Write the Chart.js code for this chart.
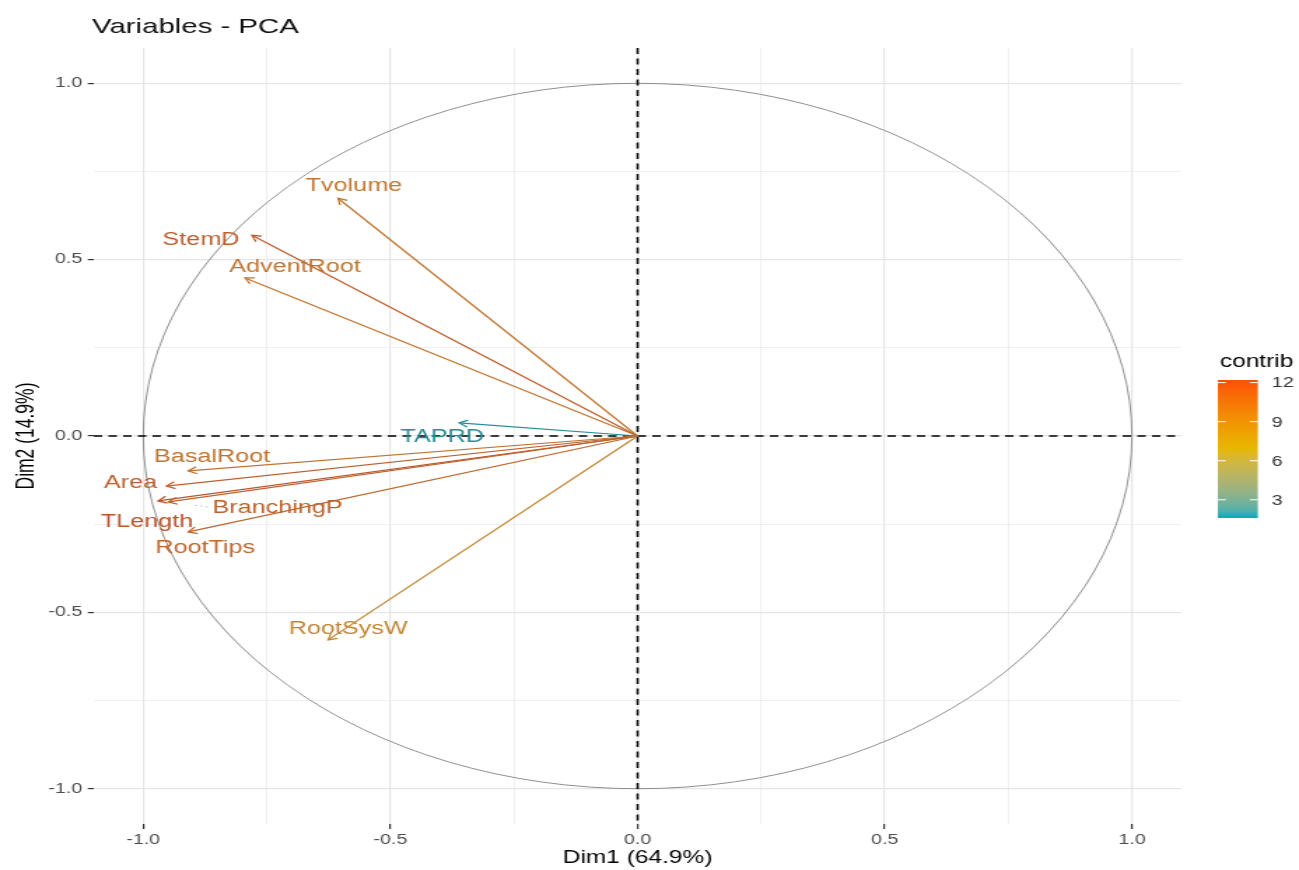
<!DOCTYPE html>
<html><head><meta charset="utf-8">
<script src="https://cdn.jsdelivr.net/npm/chart.js@4.4.1/dist/chart.umd.min.js"></script>
<style>
html,body{margin:0;padding:0;background:#fff;overflow:hidden;}
#wrap{width:1299px;height:870px;overflow:hidden;}
canvas{transform:scaleX(1.39978);transform-origin:0 0;display:block;}
</style></head><body>
<div id="wrap"><canvas id="c" width="928" height="870"></canvas></div>
<script>
// ---- data ----
const variables = ['Tvolume','StemD','AdventRoot','TAPRD','BasalRoot','Area','BranchingP','TLength','RootTips','RootSysW'];
const dim1 = [-0.606,-0.780,-0.794,-0.361,-0.909,-0.953,-0.949,-0.970,-0.909,-0.626];
const dim2 = [0.674,0.569,0.448,0.037,-0.099,-0.142,-0.187,-0.184,-0.272,-0.578];
const contrib = [10.3,11.7,10.4,1.6,10.5,11.6,11.5,12.2,11.3,9.1];
const axisTicks = [-1,-0.75,-0.5,-0.25,0,0.25,0.5,0.75,1];
const axisTickLabels = ['-1.0','','-0.5','','0.0','','0.5','','1.0'];
const legendTicks = [3,6,9,12];
const gradientColors = ['#00AFBB','#E7B800','#FC4E07'];
// label offsets from arrow tips (layout, px)
const labelOffset = [[11.4,-12],[-36.4,5],[35.7,-11],[-12.1,14],[17.1,-14],[-25.7,-3],[77.9,6],[-7.9,21],[12.1,16],[14.3,-11]];

const FONT = '"Liberation Sans", Arial, sans-serif';
const cMin = Math.min(...contrib), cMax = Math.max(...contrib);
function hex2rgb(h){return [parseInt(h.slice(1,3),16),parseInt(h.slice(3,5),16),parseInt(h.slice(5,7),16)];}
function toLin(c){c/=255;return c<=0.04045?c/12.92:Math.pow((c+0.055)/1.055,2.4);}
function fromLin(c){const v=c<=0.0031308?12.92*c:1.055*Math.pow(c,1/2.4)-0.055;return Math.max(0,Math.min(255,v*255));}
function rgb2lab(rgb){
  const [r,g,b]=rgb.map(toLin);
  const X=(0.4124*r+0.3576*g+0.1805*b)/0.95047, Y=(0.2126*r+0.7152*g+0.0722*b), Z=(0.0193*r+0.1192*g+0.9505*b)/1.08883;
  const f=t=>t>0.008856?Math.cbrt(t):7.787*t+16/116;
  const fx=f(X),fy=f(Y),fz=f(Z);
  return [116*fy-16,500*(fx-fy),200*(fy-fz)];
}
function lab2rgb(lab){
  const fy=(lab[0]+16)/116, fx=fy+lab[1]/500, fz=fy-lab[2]/200;
  const fi=t=>t*t*t>0.008856?t*t*t:(t-16/116)/7.787;
  const X=fi(fx)*0.95047, Y=fi(fy), Z=fi(fz)*1.08883;
  const r=3.2406*X-1.5372*Y-0.4986*Z, g=-0.9689*X+1.8758*Y+0.0415*Z, b=0.0557*X-0.2040*Y+1.0570*Z;
  return [fromLin(r),fromLin(g),fromLin(b)];
}
const labStops = gradientColors.map(h=>rgb2lab(hex2rgb(h)));
function rampRGB(t){
  t=Math.max(0,Math.min(1,t));
  const seg=t<0.5?0:1; const u=seg===0?t/0.5:(t-0.5)/0.5;
  const a=labStops[seg], b=labStops[seg+1];
  return lab2rgb(a.map((x,i)=>x+(b[i]-x)*u));
}
// colour of thin marks: ramp colour, slightly muted like the reference rendering
function colorFor(v){
  const c=rampRGB((v-cMin)/(cMax-cMin));
  const grey=0.3*c[0]+0.59*c[1]+0.11*c[2];
  const out=c.map(x=>Math.round((x*0.65+grey*0.35)*0.9));
  return 'rgb('+out.join(',')+')';
}
function isMajor(v){return Math.abs(v*2-Math.round(v*2))<1e-9;}

const datasets = variables.map((name,i)=>({
  label:name,
  data:[{x:0,y:0},{x:dim1[i],y:dim2[i]}],
  showLine:true,
  borderColor:colorFor(contrib[i]),
  borderWidth:1.25,
  pointRadius:0,pointHoverRadius:0,
  fill:false,tension:0
}));

const pcaPlugin = {
  id:'pca',
  beforeDatasetsDraw(chart){
    const {ctx,chartArea:a,scales:{x,y}} = chart;
    const cx=x.getPixelForValue(0), cy=y.getPixelForValue(0);
    const rx=x.getPixelForValue(1)-cx, ry=cy-y.getPixelForValue(1);
    ctx.save();
    ctx.strokeStyle='#8f8f8f'; ctx.lineWidth=1;
    ctx.beginPath(); ctx.ellipse(cx,cy,rx,ry,0,0,Math.PI*2); ctx.stroke();
    ctx.strokeStyle='#000'; ctx.setLineDash([6,4.5]);
    ctx.lineWidth=1.5;
    ctx.beginPath(); ctx.moveTo(a.left,cy); ctx.lineTo(a.right,cy); ctx.stroke();
    ctx.lineWidth=1.6;
    ctx.beginPath(); ctx.moveTo(cx,a.top); ctx.lineTo(cx,a.bottom); ctx.stroke();
    ctx.restore();
  },
  afterDatasetsDraw(chart){
    const {ctx} = chart;
    ctx.save();
    variables.forEach((name,i)=>{
      const meta=chart.getDatasetMeta(i);
      const p0=meta.data[0], p1=meta.data[1];
      const col=colorFor(contrib[i]);
      const ang=Math.atan2(p1.y-p0.y,p1.x-p0.x);
      const L=7, w=Math.PI/6;
      ctx.strokeStyle=col; ctx.lineWidth=1.25; ctx.setLineDash([]);
      ctx.beginPath();
      ctx.moveTo(p1.x-L*Math.cos(ang-w),p1.y-L*Math.sin(ang-w));
      ctx.lineTo(p1.x,p1.y);
      ctx.lineTo(p1.x-L*Math.cos(ang+w),p1.y-L*Math.sin(ang+w));
      ctx.stroke();
      const lx=p1.x+labelOffset[i][0], ly=p1.y+labelOffset[i][1];
      ctx.font='18px '+FONT;
      ctx.fillStyle=col; ctx.textAlign='center'; ctx.textBaseline='middle';
      ctx.fillText(name,lx,ly);
      if(name==='BranchingP'){
        const tw=ctx.measureText(name).width;
        ctx.globalAlpha=0.5; ctx.lineWidth=0.8; ctx.setLineDash([2,2]);
        ctx.strokeStyle='#6f8fa0';
        ctx.beginPath(); ctx.moveTo(lx-tw/2-3,ly-1); ctx.lineTo(p1.x+17,p1.y+3); ctx.stroke();
        ctx.globalAlpha=1; ctx.setLineDash([]);
      }
    });
    ctx.restore();
  },
  afterDraw(chart){
    const {ctx} = chart;
    ctx.save();
    ctx.fillStyle='#111'; ctx.font='21px '+FONT; ctx.textAlign='left'; ctx.textBaseline='middle';
    ctx.fillText('Variables - PCA',65.7,27);
    // legend
    ctx.font='17.5px '+FONT; ctx.fillStyle='#000';
    ctx.fillText('contrib',871.4,362);
    const bx=870, bw=28.6, top=380, bot=518;
    const g=ctx.createLinearGradient(0,bot,0,top);
    for(let s=0;s<=20;s++){const c=rampRGB(s/20).map(Math.round);g.addColorStop(s/20,'rgb('+c.join(',')+')');}
    ctx.fillStyle=g; ctx.fillRect(bx,top,bw,bot-top);
    ctx.font='14px '+FONT; ctx.fillStyle='#333';
    legendTicks.forEach(v=>{
      const yy=bot-(v-cMin)/(cMax-cMin)*(bot-top);
      ctx.strokeStyle='#fff'; ctx.lineWidth=1;
      ctx.beginPath(); ctx.moveTo(bx,yy); ctx.lineTo(bx+bw*0.2,yy); ctx.moveTo(bx+bw*0.8,yy); ctx.lineTo(bx+bw,yy); ctx.stroke();
      ctx.fillText(String(v),908.6,yy+1);
    });
    ctx.restore();
  }
};

function gridOpts(tl){
  return {
    color:(c)=>'#e6e6e6',
    lineWidth:(c)=>isMajor(c.tick?c.tick.value:0)?1.2:0.6,
    tickColor:(c)=>isMajor(c.tick?c.tick.value:0)?'#333':'rgba(0,0,0,0)',
    tickLength:tl, tickWidth:1.2, drawTicks:true
  };
}

new Chart(document.getElementById('c'),{
  type:'scatter',
  data:{datasets},
  options:{
    responsive:false, animation:false, devicePixelRatio:1, events:[],
    layout:{padding:{top:48,right:84,left:0,bottom:0}},
    plugins:{legend:{display:false},tooltip:{enabled:false},title:{display:false}},
    scales:{
      x:{type:'linear',min:-1.1,max:1.1,
        afterBuildTicks:s=>{s.ticks=axisTicks.map(v=>({value:v}));},
        afterFit:s=>{s.height=46;},
        grid:gridOpts(5),
        border:{display:false},
        ticks:{callback:(v,i)=>axisTickLabels[i],color:'#4D4D4D',font:{family:FONT,size:14},padding:3,maxRotation:0,autoSkip:false},
        title:{display:true,text:'Dim1 (64.9%)',color:'#000',font:{family:FONT,size:17.5},padding:{top:0,bottom:1}}
      },
      y:{type:'linear',min:-1.1,max:1.1,
        afterBuildTicks:s=>{s.ticks=axisTicks.map(v=>({value:v}));},
        afterFit:s=>{s.width=67;},
        grid:gridOpts(4.3),
        border:{display:false},
        ticks:{callback:(v,i)=>axisTickLabels[i],color:'#4D4D4D',font:{family:FONT,size:14},padding:4,autoSkip:false},
        title:{display:true,text:'Dim2 (14.9%)',color:'#000',font:{family:FONT,size:17.5},padding:{top:9,bottom:0}}
      }
    }
  },
  plugins:[pcaPlugin]
});
</script>
</body></html>
